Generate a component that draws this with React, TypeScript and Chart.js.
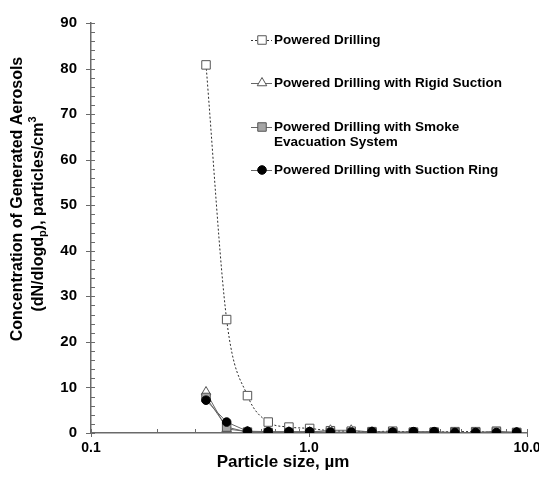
import React, { useEffect, useRef } from 'react';
import { Chart, registerables } from 'chart.js';

Chart.register(...registerables);

// Particle size channel mid-points (µm)
const particleSizes = [0.337, 0.419, 0.522, 0.65, 0.809, 1.007, 1.254, 1.562, 1.945, 2.421, 3.014, 3.752, 4.671, 5.815, 7.239, 8.963];

// Concentrations, particles/cm3
const poweredDrilling = [80.8, 24.9, 8.2, 2.4, 1.3, 1.0, 0.5, 0.4, 0.3, 0.4, 0.2, 0.2, 0.3, 0.3, 0.1, 0.1];
const rigidSuction = [9.0, 0.9, 0.3, 0.2, 0.2, 0.2, 0.6, 0.6, 0.2, 0.1, 0.1, 0.1, 0.1, 0.1, 0.1, 0.1];
const smokeEvacuation = [7.8, 1.3, 0.2, 0.1, 0.1, 0.1, 0.1, 0.1, 0.1, 0.1, 0.1, 0.1, 0.1, 0.1, 0.4, 0.1];
const suctionRing = [7.2, 2.4, 0.4, 0.3, 0.3, 0.3, 0.2, 0.2, 0.3, 0.2, 0.3, 0.3, 0.1, 0.1, 0.1, 0.2];

const seriesLabels = [
  ['Powered Drilling'],
  ['Powered Drilling with Rigid Suction'],
  ['Powered Drilling with Smoke', 'Evacuation System'],
  ['Powered Drilling with Suction Ring'],
];

const xLabelValues = [0.1, 1, 10];
const yMin = 0;
const yMax = 90;
const yStep = 10;
const yMinorStep = 2;

const FONT = '"Liberation Sans", Arial, Helvetica, sans-serif';
const AXIS_COLOR = '#6a6a6a';
const LINE_COLOR = '#666666';

const toPoints = (ys: number[]) => particleSizes.map((x, i) => ({ x, y: ys[i] }));

function drawMarker(ctx: CanvasRenderingContext2D, kind: number, x: number, y: number) {
  ctx.save();
  ctx.lineWidth = 1;
  ctx.setLineDash([]);
  if (kind === 0 || kind === 2) {
    const s = 8.5;
    ctx.fillStyle = kind === 0 ? '#ffffff' : '#a6a6a6';
    ctx.strokeStyle = '#555555';
    ctx.beginPath();
    ctx.rect(x - s / 2, y - s / 2, s, s);
    ctx.fill();
    ctx.stroke();
  } else if (kind === 1) {
    const r = 5.5;
    ctx.fillStyle = '#ffffff';
    ctx.strokeStyle = '#555555';
    ctx.beginPath();
    ctx.moveTo(x, y - r);
    ctx.lineTo(x + r * 0.866, y + r * 0.5);
    ctx.lineTo(x - r * 0.866, y + r * 0.5);
    ctx.closePath();
    ctx.fill();
    ctx.stroke();
  } else {
    ctx.fillStyle = '#000000';
    ctx.strokeStyle = '#000000';
    ctx.beginPath();
    ctx.arc(x, y, 4.3, 0, Math.PI * 2);
    ctx.fill();
    ctx.stroke();
  }
  ctx.restore();
}

const decorPlugin = {
  id: 'decor',
  beforeDatasetsDraw(chart: any) {
    const ctx: CanvasRenderingContext2D = chart.ctx;
    const xs = chart.scales.x;
    const ys = chart.scales.y;
    ctx.save();
    ctx.strokeStyle = AXIS_COLOR;
    ctx.lineWidth = 1;
    for (let v = yMin; v <= yMax; v += yMinorStep) {
      const py = Math.round(ys.getPixelForValue(v)) + 0.5;
      const major = v % yStep === 0;
      ctx.beginPath();
      ctx.moveTo(major ? xs.left - 5 : xs.left, py);
      ctx.lineTo(xs.left + 4, py);
      ctx.stroke();
    }
    for (const t of xs.ticks) {
      const v = t.value;
      const lg = Math.log10(v);
      const major = Math.abs(lg - Math.round(lg)) < 1e-6;
      const px = Math.round(xs.getPixelForValue(v)) + 0.5;
      ctx.beginPath();
      ctx.moveTo(px, ys.bottom - 4);
      ctx.lineTo(px, major ? ys.bottom + 4 : ys.bottom);
      ctx.stroke();
    }
    ctx.restore();
  },
  afterDraw(chart: any) {
    const ctx: CanvasRenderingContext2D = chart.ctx;
    ctx.save();
    // X axis title
    ctx.fillStyle = '#000';
    ctx.font = `bold 17px ${FONT}`;
    ctx.textAlign = 'center';
    ctx.textBaseline = 'middle';
    ctx.fillText('Particle size, µm', 283, 462);

    // Y axis title (rotated, two lines)
    ctx.save();
    ctx.translate(18, 199);
    ctx.rotate(-Math.PI / 2);
    ctx.font = `bold 16px ${FONT}`;
    ctx.textAlign = 'center';
    ctx.textBaseline = 'middle';
    ctx.fillText('Concentration of Generated Aerosols', 0, 0);
    ctx.restore();

    ctx.save();
    ctx.translate(39, 214);
    ctx.rotate(-Math.PI / 2);
    ctx.textBaseline = 'middle';
    ctx.textAlign = 'left';
    const big = `bold 16px ${FONT}`;
    const small = `bold 11px ${FONT}`;
    const parts: [string, string, number][] = [
      ['(dN/dlogd', big, 0],
      ['p', small, 4],
      ['), particles/cm', big, 0],
      ['3', small, -6],
    ];
    let total = 0;
    for (const [txt, f] of parts) {
      ctx.font = f;
      total += ctx.measureText(txt).width;
    }
    let cx = -total / 2;
    for (const [txt, f, dy] of parts) {
      ctx.font = f;
      ctx.fillText(txt, cx, dy);
      cx += ctx.measureText(txt).width;
    }
    ctx.restore();

    // Legend
    const rows = [40, 83, 127, 170];
    ctx.font = `bold 13.5px ${FONT}`;
    ctx.textAlign = 'left';
    ctx.textBaseline = 'middle';
    seriesLabels.forEach((lines, i) => {
      const y = rows[i];
      ctx.save();
      ctx.strokeStyle = i === 0 ? '#333333' : LINE_COLOR;
      ctx.lineWidth = 1;
      ctx.setLineDash(i === 0 ? [2, 2] : []);
      ctx.beginPath();
      ctx.moveTo(251, y + 0.5);
      ctx.lineTo(272, y + 0.5);
      ctx.stroke();
      ctx.restore();
      drawMarker(ctx, i, 262, y);
      ctx.fillStyle = '#000';
      lines.forEach((ln, j) => ctx.fillText(ln, 274, y + j * 15));
    });
    ctx.restore();
  },
};

export default function App() {
  const canvasRef = useRef<HTMLCanvasElement | null>(null);

  useEffect(() => {
    document.body.style.margin = '0';
    document.body.style.overflow = 'hidden';
    const canvas = canvasRef.current;
    if (!canvas) return;
    const chart = new Chart(canvas, {
      type: 'line',
      data: {
        datasets: [
          {
            label: seriesLabels[0].join(' '),
            data: toPoints(poweredDrilling),
            borderColor: '#2a2a2a',
            borderWidth: 1,
            borderDash: [2, 2],
            tension: 0.4,
            cubicInterpolationMode: 'monotone',
            pointStyle: 'rect',
            pointRadius: 6,
            pointBackgroundColor: '#ffffff',
            pointBorderColor: '#555555',
            pointBorderWidth: 1,
            order: 3,
          },
          {
            label: seriesLabels[1].join(' '),
            data: toPoints(rigidSuction),
            borderColor: LINE_COLOR,
            borderWidth: 1,
            pointStyle: 'triangle',
            pointRadius: 5.5,
            pointBackgroundColor: '#ffffff',
            pointBorderColor: '#555555',
            pointBorderWidth: 1,
            order: 2,
          },
          {
            label: seriesLabels[2].join(' '),
            data: toPoints(smokeEvacuation),
            borderColor: LINE_COLOR,
            borderWidth: 1,
            pointStyle: 'rect',
            pointRadius: 6,
            pointBackgroundColor: '#a6a6a6',
            pointBorderColor: '#555555',
            pointBorderWidth: 1,
            order: 1,
          },
          {
            label: seriesLabels[3].join(' '),
            data: toPoints(suctionRing),
            borderColor: LINE_COLOR,
            borderWidth: 1,
            pointStyle: 'circle',
            pointRadius: 4.3,
            pointBackgroundColor: '#000000',
            pointBorderColor: '#000000',
            pointBorderWidth: 1,
            order: 0,
          },
        ],
      },
      options: {
        responsive: false,
        animation: false,
        layout: { padding: { left: 0, top: 18, right: 33, bottom: 0 } },
        plugins: {
          legend: { display: false },
          tooltip: { enabled: false },
        },
        scales: {
          x: {
            type: 'logarithmic',
            min: 0.1,
            max: 10,
            grid: { display: false, drawTicks: false },
            border: { display: true, color: AXIS_COLOR, width: 1.5 },
            afterFit: (scale: any) => {
              scale.height = 46;
            },
            ticks: {
              autoSkip: false,
              maxRotation: 0,
              padding: 7,
              color: '#000',
              font: { family: FONT, size: 14, weight: 'bold' },
              callback: (v: any) => {
                const n = Number(v);
                return xLabelValues.some((t) => Math.abs(t - n) < 1e-9) ? n.toFixed(1) : '';
              },
            },
          },
          y: {
            type: 'linear',
            min: yMin,
            max: yMax,
            grid: { display: false, drawTicks: false },
            border: { display: true, color: AXIS_COLOR, width: 1.5 },
            afterFit: (scale: any) => {
              scale.width = 91;
            },
            ticks: {
              stepSize: yStep,
              padding: 14,
              color: '#000',
              font: { family: FONT, size: 15, weight: 'bold' },
            },
          },
        },
      },
      plugins: [decorPlugin],
    } as any);
    return () => chart.destroy();
  }, []);

  return (
    <div style={{ position: 'fixed', left: 0, top: 0, width: 560, height: 479 }}>
      <canvas ref={canvasRef} width={560} height={479} style={{ display: 'block' }} />
    </div>
  );
}
